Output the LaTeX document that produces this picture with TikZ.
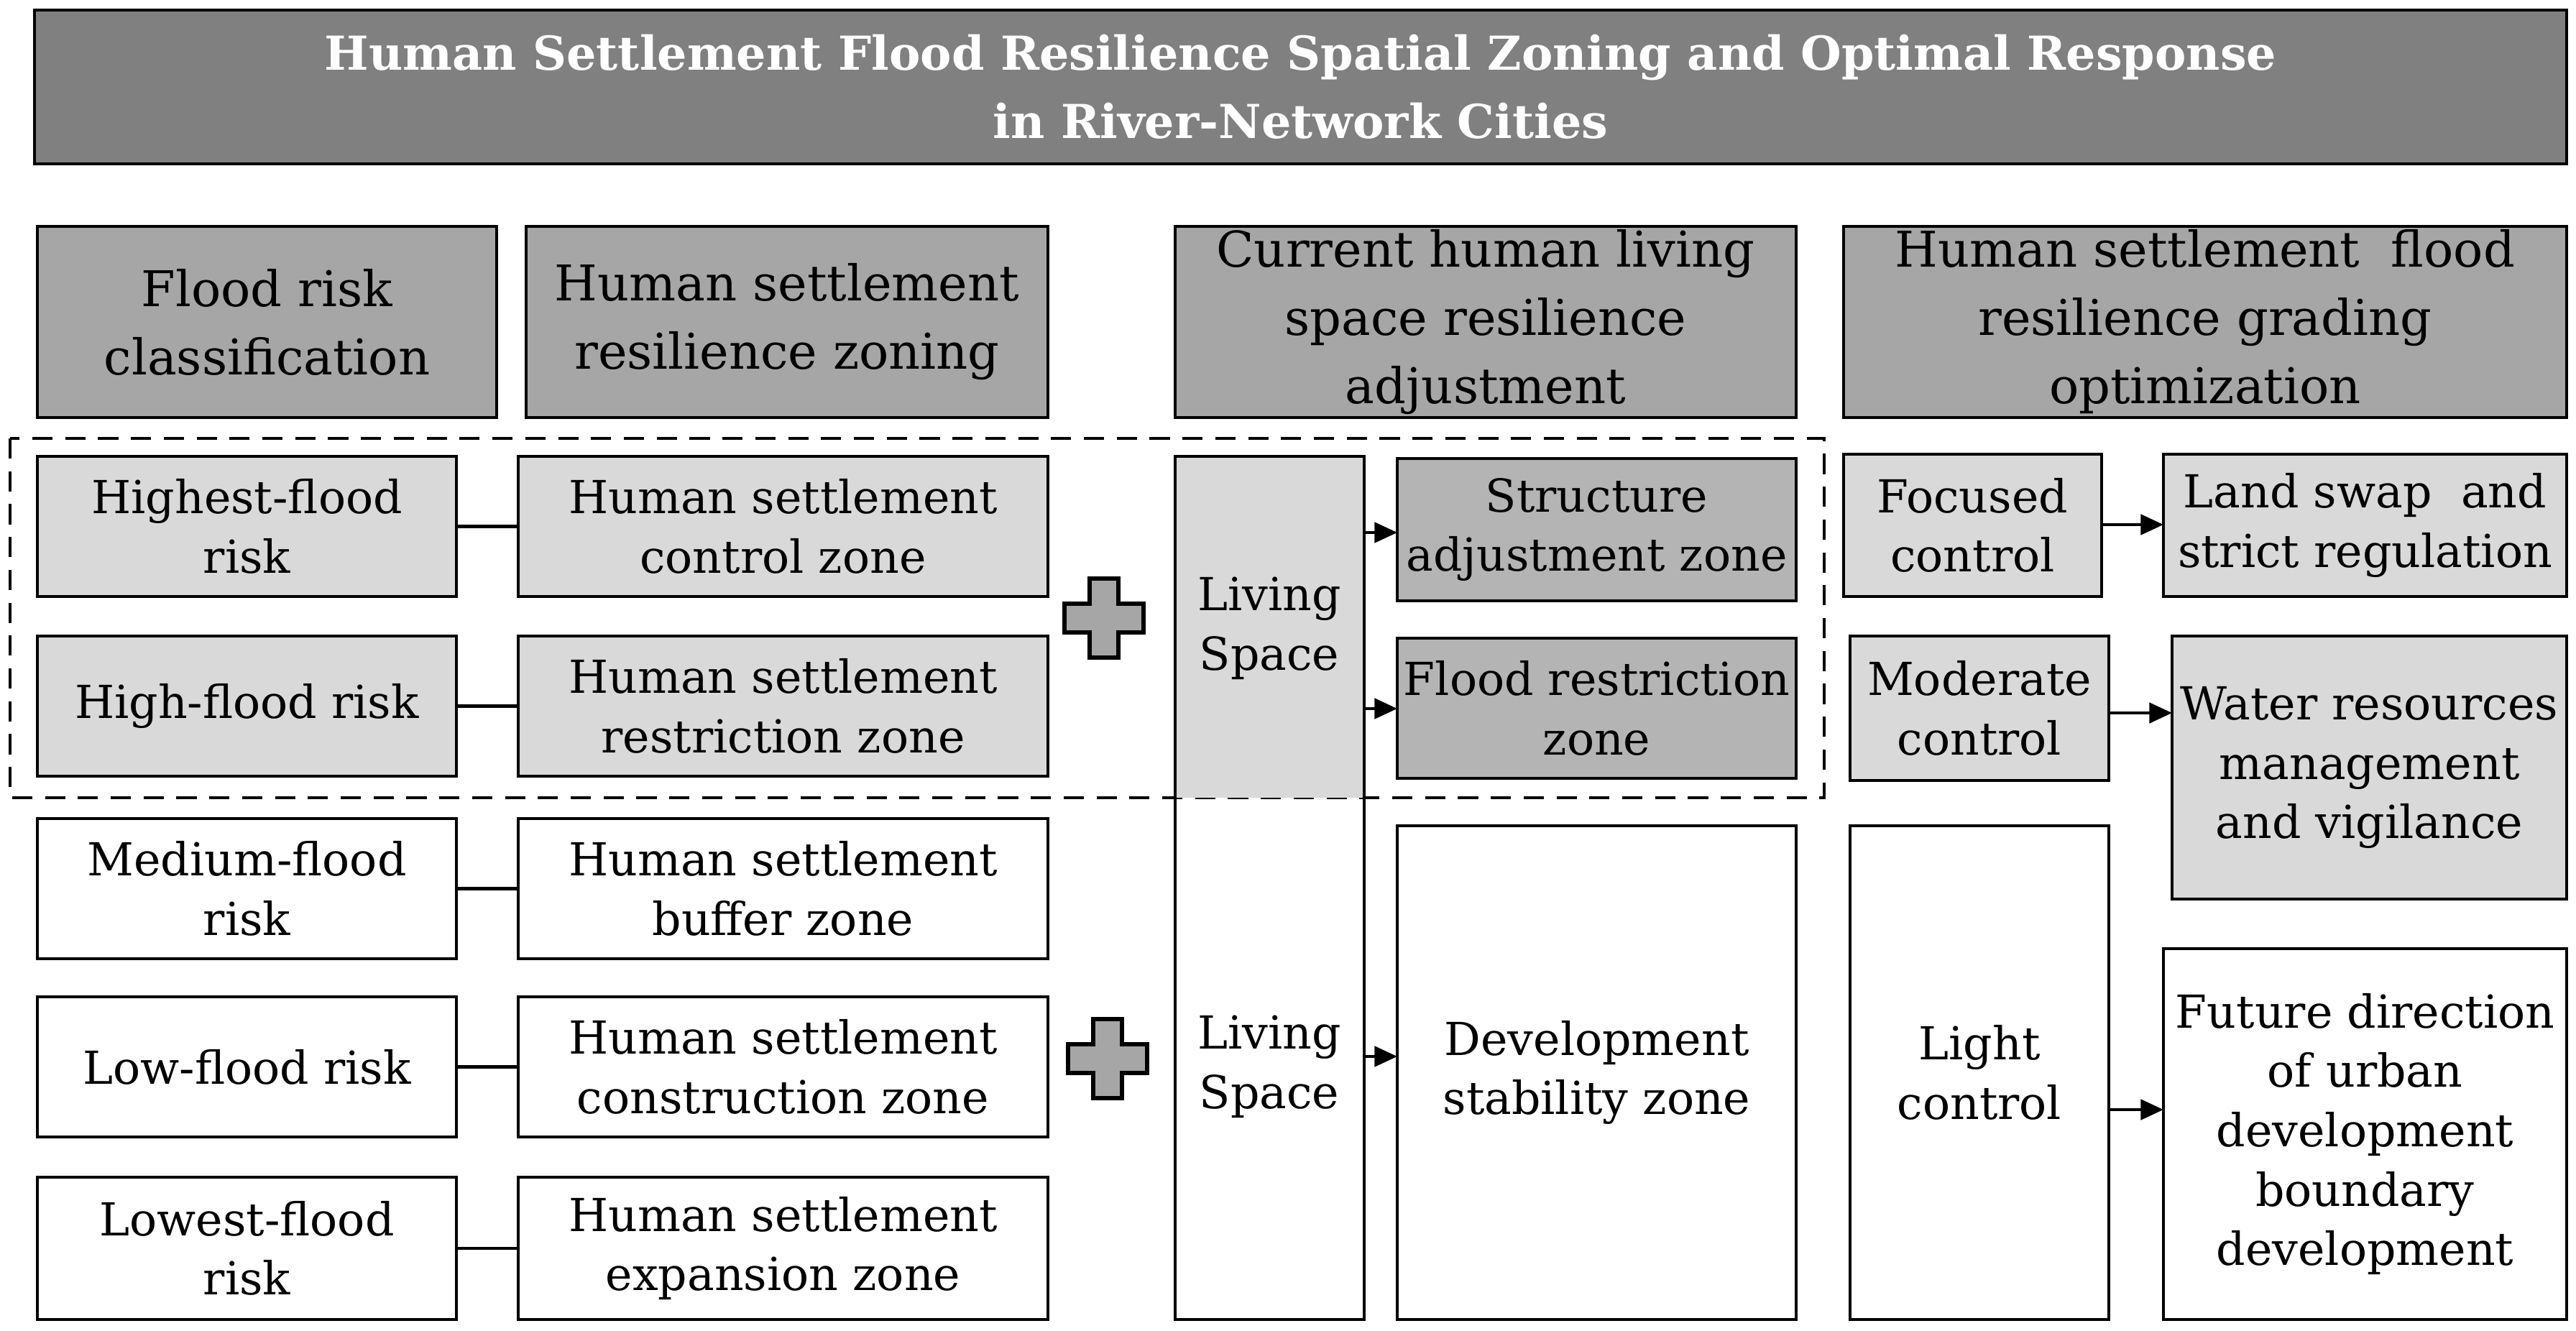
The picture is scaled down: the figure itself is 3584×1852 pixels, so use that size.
\documentclass[tikz,border=0pt]{standalone}
\usepackage{fontspec}
\setmainfont{DejaVu Serif}
\usetikzlibrary{arrows.meta}
\definecolor{dk}{HTML}{808080}
\definecolor{md}{HTML}{A6A6A6}
\definecolor{mg}{HTML}{B4B4B4}
\definecolor{lt}{HTML}{D9D9D9}
\tikzset{
 bxs/.style={draw=black,line width=1.3pt,inner sep=0pt,outer sep=0pt,align=center},
 hdr/.style={bxs,fill=md,font=\fontsize{19.5}{27}\selectfont},
 bd/.style={bxs,font=\fontsize{18}{23.5}\selectfont},
 ttl/.style={bxs,fill=dk,text=white,font=\bfseries\fontsize{18.5}{27}\selectfont},
 con/.style={line width=1.3pt},
 arr/.style={line width=1.3pt,-{Triangle[length=9pt,width=8pt]}},
 plusst/.style={draw=black,line width=1.5pt,fill=md}
}
\newcommand\bx[7]{\pgfmathsetmacro\bw{(#4-#2)*0.01}\pgfmathsetmacro\bh{(#5-#3)*0.01}%
\node[#6,minimum width=\bw cm,minimum height=\bh cm] (#1) at ({(#2+#4)/2},{(#3+#5)/2}) {#7};}
\newcommand\plussign[2]{\draw[plusst] (#1-20,#2-55) -- (#1+20,#2-55) -- (#1+20,#2-20) -- (#1+55,#2-20) -- (#1+55,#2+20) -- (#1+20,#2+20) -- (#1+20,#2+55) -- (#1-20,#2+55) -- (#1-20,#2+20) -- (#1-55,#2+20) -- (#1-55,#2-20) -- (#1-20,#2-20) -- cycle;}
\begin{document}
\begin{tikzpicture}[x=0.01cm,y=-0.01cm]
\useasboundingbox (0,0) rectangle (3584,1852);
\bx{title}{48}{14}{3571}{228}{ttl}{Human Settlement Flood Resilience Spatial Zoning and Optimal Response\\in River-Network Cities}
\bx{h1}{52}{315}{691}{581}{hdr}{Flood risk\\classification}
\bx{h2}{732}{315}{1458}{581}{hdr}{Human settlement\\resilience zoning}
\bx{h3}{1635}{315}{2499}{581}{hdr}{Current human living\\space resilience\\adjustment}
\bx{h4}{2565}{315}{3571}{581}{hdr}{Human settlement \ flood\\resilience grading\\optimization}
% dashed frame
\draw[line width=1.3pt,dash pattern=on 8pt off 5pt] (14,610) rectangle (2538,1110);
% column 1 and 2
\bx{a1}{52}{635}{635}{830}{bd,fill=lt}{Highest-flood\\risk}
\bx{a2}{52}{885}{635}{1080}{bd,fill=lt}{High-flood risk}
\bx{a3}{52}{1139}{635}{1334}{bd}{Medium-flood\\risk}
\bx{a4}{52}{1387}{635}{1582}{bd}{Low-flood risk}
\bx{a5}{52}{1638}{635}{1836}{bd}{Lowest-flood\\risk}
\bx{b1}{721}{635}{1458}{830}{bd,fill=lt}{Human settlement\\control zone}
\bx{b2}{721}{885}{1458}{1080}{bd,fill=lt}{Human settlement\\restriction zone}
\bx{b3}{721}{1139}{1458}{1334}{bd}{Human settlement\\buffer zone}
\bx{b4}{721}{1387}{1458}{1582}{bd}{Human settlement\\construction zone}
\bx{b5}{721}{1638}{1458}{1836}{bd}{Human settlement\\expansion zone}
\foreach \i in {1,...,5}{\draw[con] (a\i.east) -- (b\i.west);}
\plussign{1536}{860}
\plussign{1541}{1473}
% living space column
\bx{ls}{1635}{635}{1898}{1836}{bxs}{}
\fill[lt] (1635,635) rectangle (1898,1110);
\draw[line width=1.3pt] (1635,635) rectangle (1898,1836);
\node[bd,draw=none] (ls1) at (1766,874) {Living\\Space};
\node[bd,draw=none] (ls2) at (1766,1484) {Living\\Space};
% column 3
\bx{c1}{1944}{638}{2499}{836}{bd,fill=mg}{Structure\\adjustment zone}
\bx{c2}{1944}{888}{2499}{1083}{bd,fill=mg}{Flood restriction\\zone}
\bx{c3}{1944}{1149}{2499}{1836}{bd}{Development\\stability zone}
\coordinate (p1) at (1898,741);
\coordinate (p2) at (1898,986);
\coordinate (p3) at (1898,1470);
\draw[arr] (p1) -- (p1 -| c1.west);
\draw[arr] (p2) -- (p2 -| c2.west);
\draw[arr] (p3) -- (p3 -| c3.west);
% column 4 and 5
\bx{d1}{2565}{632}{2924}{830}{bd,fill=lt}{Focused\\control}
\bx{d2}{2574}{885}{2934}{1086}{bd,fill=lt}{Moderate\\control}
\bx{d3}{2574}{1149}{2934}{1836}{bd}{Light\\control}
\bx{e1}{3010}{632}{3571}{830}{bd,fill=lt}{Land swap \ and\\strict regulation}
\bx{e2}{3022}{885}{3571}{1251}{bd,fill=lt}{Water resources\\management\\and vigilance}
\bx{e3}{3010}{1320}{3571}{1836}{bd}{Future direction\\of urban\\development\\boundary\\development}
\coordinate (q1) at (2924,730);
\coordinate (q2) at (2934,992);
\coordinate (q3) at (2934,1544);
\draw[arr] (q1) -- (q1 -| e1.west);
\draw[arr] (q2) -- (q2 -| e2.west);
\draw[arr] (q3) -- (q3 -| e3.west);
\end{tikzpicture}
\end{document}
